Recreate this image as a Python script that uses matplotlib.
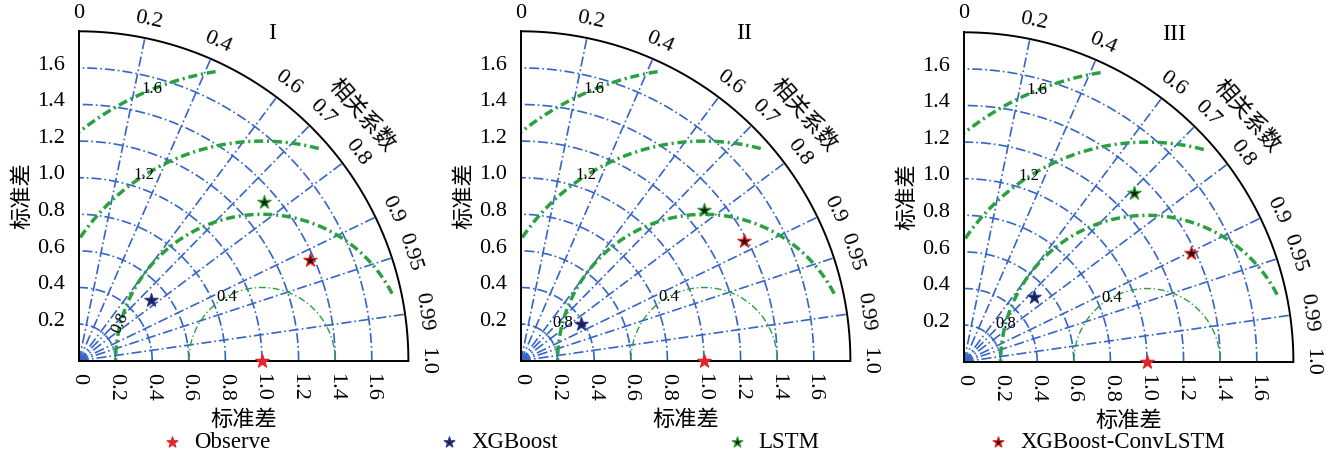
import numpy as np
import matplotlib.pyplot as plt

plt.rcParams['font.family'] = ['Liberation Serif', 'Noto Sans CJK SC']
CJK = ['Noto Sans CJK SC', 'DejaVu Sans']

# Data: standard deviation and correlation for each model in each panel
models = ["Observe", "XGBoost", "LSTM", "XGBoost-ConvLSTM"]
panel_names = ["I", "II", "III"]
std_I = [1.0, 0.514, 1.332, 1.378]
corr_I = [1.0, 0.763, 0.760, 0.916]
std_II = [1.0, 0.385, 1.295, 1.383]
corr_II = [1.0, 0.855, 0.772, 0.881]
std_III = [1.0, 0.522, 1.308, 1.373]
corr_III = [1.0, 0.732, 0.709, 0.902]
panels_std = [std_I, std_II, std_III]
panels_corr = [corr_I, corr_II, corr_III]

std_grid = [0.2, 0.4, 0.6, 0.8, 1.0, 1.2, 1.4, 1.6]
std_ticks = ["0.2", "0.4", "0.6", "0.8", "1.0", "1.2", "1.4", "1.6"]
corr_grid = [0.2, 0.4, 0.6, 0.7, 0.8, 0.9, 0.95, 0.99]
corr_ticks = [0, 0.2, 0.4, 0.6, 0.7, 0.8, 0.9, 0.95, 0.99, 1.0]
corr_tick_labels = ["0", "0.2", "0.4", "0.6", "0.7", "0.8", "0.9", "0.95", "0.99", "1.0"]
rms_levels = [0.4, 0.8, 1.2, 1.6]
rms_label_phi = [119, 165, 122.5, 112]

face_colors = ["#e3242b", "#1c1f4f", "#1b1b1b", "#2a0c0c"]
edge_colors = ["#e3242b", "#2b3990", "#2ca02c", "#e02424"]

BLUE = "#3565c6"
GREEN = "#2aa040"
RMAX = 1.8

fig = plt.figure(figsize=(13.3, 4.59), dpi=100)

lefts = [79 / 1330, 521 / 1330, 964 / 1330]
bottoms = [98.3 / 459, 98.3 / 459, 97.3 / 459]
title_x = [1.055, 1.22, 1.15]
label08_rot = [65, 0, 0]

handles = []
for k in range(3):
    ax = fig.add_axes([lefts[k], bottoms[k], 329.4 / 1330, 329.4 / 459])
    ax.set_xlim(0, RMAX)
    ax.set_ylim(0, RMAX)
    ax.axis("off")

    t = np.linspace(0, np.pi / 2, 300)
    for r in std_grid:
        ax.plot(r * np.cos(t), r * np.sin(t), color=BLUE, lw=1.2,
                ls=(0, (6, 1.8, 1, 1.8)), clip_on=False, zorder=1)
    for c in corr_grid:
        th = np.arccos(c)
        ax.plot([0, RMAX * np.cos(th)], [0, RMAX * np.sin(th)], color=BLUE, lw=1.2,
                ls=(0, (6, 1.8, 1, 1.8)), clip_on=False, zorder=1)

    # centred RMS difference arcs
    phi = np.linspace(0, np.pi, 800)
    for rms in rms_levels:
        x = 1 + rms * np.cos(phi)
        y = rms * np.sin(phi)
        m = (x >= 0) & (np.hypot(x, y) <= 1.75)
        if rms == 0.4:
            ax.plot(x[m], y[m], color=GREEN, lw=1.0, ls=(0, (5, 2, 1, 2)), zorder=2)
        else:
            ax.plot(x[m], y[m], color=GREEN, lw=2.5, ls=(0, (2.6, 1.1, 0.6, 1.1)), zorder=2)
    for rms, p in zip(rms_levels, rms_label_phi):
        pr = np.radians(p)
        rot = label08_rot[k] if rms == 0.8 else 0
        ax.text(1 + rms * np.cos(pr), rms * np.sin(pr), f"{rms:.1f}", fontsize=12,
                ha="center", va="center", rotation=rot, zorder=3)

    # frame
    ax.plot(RMAX * np.cos(t), RMAX * np.sin(t), color="black", lw=1.4, clip_on=False, zorder=4)
    ax.plot([0, 0], [0, RMAX], color="black", lw=1.4, clip_on=False, zorder=4)
    ax.plot([0, RMAX], [0, 0], color="black", lw=1.4, clip_on=False, zorder=4)

    # tick labels
    for v, s in zip(std_grid, std_ticks):
        ax.text(-0.075, v + 0.015, s, fontsize=16, ha="right", va="center")
    for v, s in zip([0] + std_grid, ["0"] + std_ticks):
        ax.text(v, -0.065, s, fontsize=16, ha="center", va="top", rotation=-90)
    for c, s in zip(corr_ticks, corr_tick_labels):
        th = np.arccos(c)
        ax.text(1.9 * np.cos(th), 1.9 * np.sin(th), s, fontsize=16, ha="center",
                va="center", rotation=np.degrees(th) - 90, rotation_mode="anchor")

    a = np.radians(41)
    ax.text(2.05 * np.cos(a), 2.05 * np.sin(a), "相关系数", family=CJK, fontsize=16,
            ha="center", va="center", rotation=-49)
    ax.text(-0.31, 0.9, "标准差", family=CJK, fontsize=16, ha="center", va="center",
            rotation=90)
    ax.text(0.9, -0.32, "标准差", family=CJK, fontsize=16, ha="center", va="center")
    ax.text(title_x[k], 1.79, panel_names[k], fontsize=17, ha="center", va="center")

    # model points
    stds = panels_std[k]
    corrs = panels_corr[k]
    for i, name in enumerate(models):
        th = np.arccos(corrs[i])
        h = ax.scatter(stds[i] * np.cos(th), stds[i] * np.sin(th), marker="*", s=100,
                       facecolor=face_colors[i], edgecolor=edge_colors[i], linewidths=0.9,
                       zorder=6, clip_on=False, label=name)
        if k == 0:
            handles.append(h)

fig.legend(handles, models, ncol=4, loc="center", bbox_to_anchor=(0.521, 0.035),
           frameon=False, fontsize=16.5, handlelength=1, handletextpad=0.46,
           columnspacing=7.3, scatterpoints=1, markerscale=0.8)

fig.savefig("out.png", dpi=100)
